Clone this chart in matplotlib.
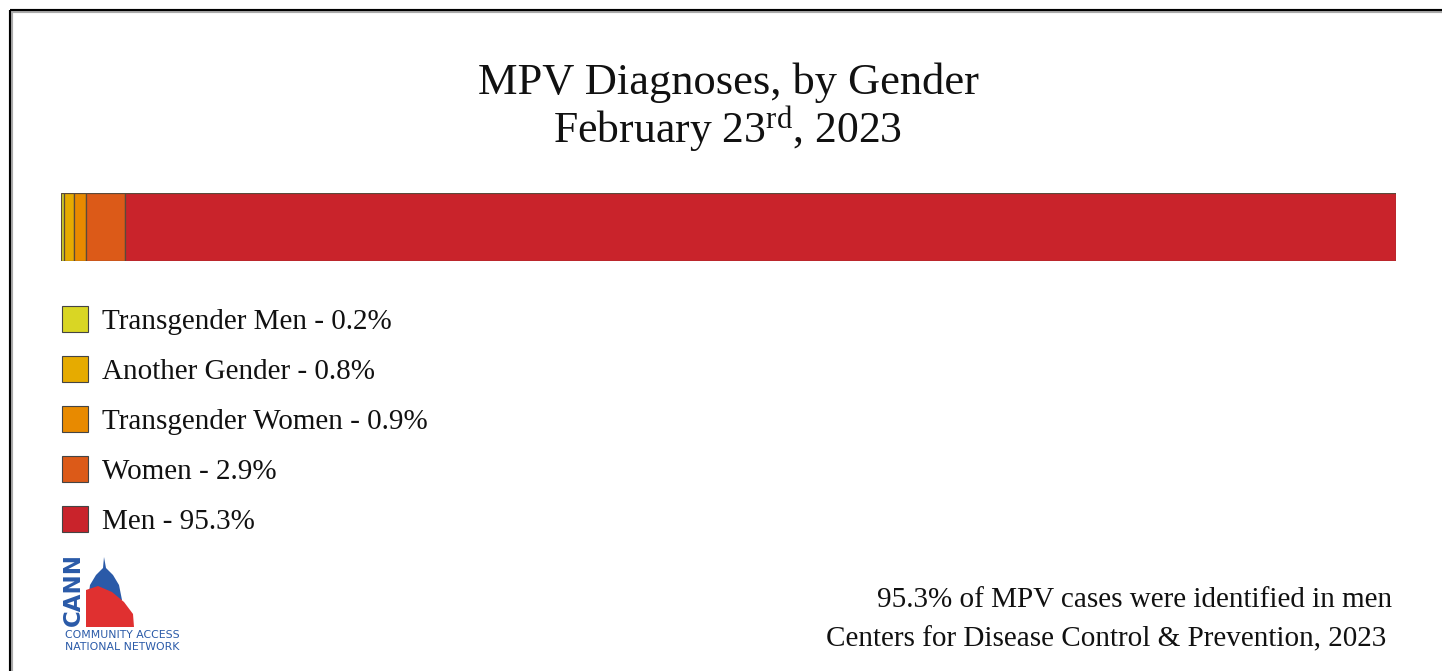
import matplotlib
matplotlib.use("Agg")
import matplotlib.pyplot as plt
from matplotlib.patches import Rectangle, Polygon

plt.rcParams['mathtext.fontset'] = 'custom'
plt.rcParams['mathtext.rm'] = 'Liberation Serif'
plt.rcParams['mathtext.it'] = 'Liberation Serif:italic'
plt.rcParams['mathtext.bf'] = 'Liberation Serif:bold'

categories = ["Transgender Men", "Another Gender", "Transgender Women", "Women", "Men"]
values = [0.2, 0.8, 0.9, 2.9, 95.3]
colors = ["#d9d624", "#e6ab00", "#e88a00", "#dc5a18", "#c9232b"]
title_line1 = "MPV Diagnoses, by Gender"
title_line2 = r"February 23$^{\mathrm{rd}}$, 2023"
note1 = "95.3% of MPV cases were identified in men"
note2 = "Centers for Disease Control & Prevention, 2023"

W, H = 1442, 671
fig = plt.figure(figsize=(W / 100, H / 100), dpi=100)
fig.patch.set_facecolor("white")

# overlay axes in pixel coordinates
ov = fig.add_axes([0, 0, 1, 1])
ov.set_xlim(0, W)
ov.set_ylim(H, 0)
ov.axis("off")

# frame lines (top & left)
ov.plot([10, W], [11, 11], color="#aaaaaa", lw=3, solid_capstyle="butt")
ov.plot([11, 11], [10, H], color="#aaaaaa", lw=3, solid_capstyle="butt")
ov.plot([10, W], [10, 10], color="black", lw=1.5, solid_capstyle="butt")
ov.plot([10, 10], [10, H], color="black", lw=1.5, solid_capstyle="butt")

serif = "Liberation Serif"
ov.text(728, 83, title_line1, ha="center", va="center", fontsize=32, family=serif, color="#111111")
ov.text(728, 129, title_line2, ha="center", va="center", fontsize=31.5, family=serif, color="#111111")

# stacked bar
bx0, by0, bw, bh = 61, 193, 1335, 68
bax = fig.add_axes([bx0 / W, (H - by0 - bh) / H, bw / W, bh / H])
left = 0
for cat, v, c in zip(categories, values, colors):
    bax.barh(0, v, left=left, color=c, edgecolor="#5a4a3a", linewidth=0.9, height=1.0)
    left += v
bax.set_xlim(0, sum(values))
bax.set_ylim(-0.5, 0.5)
bax.axis("off")

# legend
for i, (cat, v, c) in enumerate(zip(categories, values, colors)):
    yc = 319 + 50 * i
    ov.add_patch(Rectangle((62, yc - 13), 26, 26, facecolor=c, edgecolor="#444444", lw=0.8))
    ov.text(102, yc + 3, f"{cat} - {v}%", ha="left", va="center", fontsize=21, family=serif, color="#111111")

# notes
ov.text(1392, 600, note1, ha="right", va="center", fontsize=21, family=serif, color="#111111")
ov.text(1386, 639, note2, ha="right", va="center", fontsize=21, family=serif, color="#111111")

# simplified logo
blue = "#2a5aa8"
red = "#e03030"
ov.add_patch(Polygon([(88, 600), (90, 585), (96, 575), (103, 568), (104, 557), (106, 568),
                      (113, 575), (119, 585), (122, 600)], closed=True,
                     facecolor=blue, edgecolor="none"))
ov.add_patch(Polygon([(86, 590), (98, 586), (112, 592), (124, 602), (133, 614), (134, 627), (86, 627)],
                     closed=True, facecolor=red, edgecolor="none"))
ov.text(73, 590, "CANN", rotation=90, ha="center", va="center", fontsize=16.5, fontweight="bold",
        family="DejaVu Sans", color=blue)
ov.text(65, 635, "COMMUNITY ACCESS", ha="left", va="center", fontsize=7.8, family="DejaVu Sans", color=blue)
ov.text(65, 647, "NATIONAL NETWORK", ha="left", va="center", fontsize=7.8, family="DejaVu Sans", color=blue)

fig.savefig("out.png", dpi=100)
